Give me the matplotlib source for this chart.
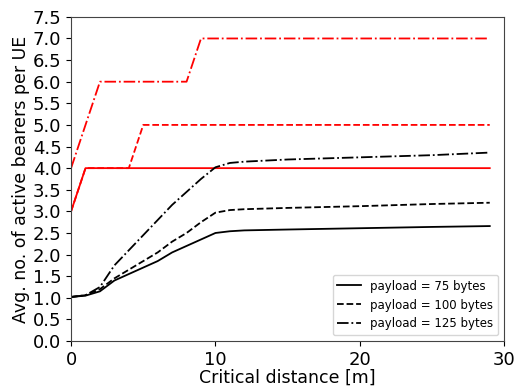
import matplotlib
matplotlib.use('Agg')
import matplotlib.pyplot as plt

# Critical distance [m]
dist = [0, 1, 2, 3, 4, 5, 6, 7, 8, 9, 10, 11, 12, 15, 20, 25, 29]

# simulated average bearers (black)
sim_75 = [1.02, 1.05, 1.15, 1.4, 1.55, 1.7, 1.85, 2.05, 2.2, 2.35, 2.5, 2.54, 2.56, 2.58, 2.61, 2.64, 2.66]
sim_100 = [1.02, 1.06, 1.2, 1.45, 1.65, 1.85, 2.05, 2.3, 2.5, 2.75, 2.97, 3.03, 3.05, 3.08, 3.12, 3.17, 3.2]
sim_125 = [1.02, 1.06, 1.25, 1.75, 2.1, 2.45, 2.8, 3.15, 3.45, 3.75, 4.02, 4.12, 4.15, 4.2, 4.25, 4.3, 4.36]

# upper bounds (red)
bound_75 = [3, 4, 4, 4, 4, 4, 4, 4, 4, 4, 4, 4, 4, 4, 4, 4, 4]
bound_100 = [3, 4, 4, 4, 4, 5, 5, 5, 5, 5, 5, 5, 5, 5, 5, 5, 5]
bound_125 = [4, 5, 6, 6, 6, 6, 6, 6, 6, 7, 7, 7, 7, 7, 7, 7, 7]

labels = ['payload = 75 bytes', 'payload = 100 bytes', 'payload = 125 bytes']
styles = ['-', '--', '-.']

fig = plt.figure(figsize=(5.15, 3.92), dpi=100)
ax = fig.add_axes([0.138, 0.130, 0.841, 0.827])

for y, ls in zip([bound_75, bound_100, bound_125], styles):
    ax.plot(dist, y, color='red', linestyle=ls, linewidth=1.3)
for y, ls, lab in zip([sim_75, sim_100, sim_125], styles, labels):
    ax.plot(dist, y, color='black', linestyle=ls, linewidth=1.3, label=lab)

ax.set_xlim(0, 30)
ax.set_ylim(0, 7.5)
ax.set_xticks([0, 10, 20, 30])
ax.set_yticks([i * 0.5 for i in range(16)])
ax.tick_params(labelsize=13)
ax.set_xlabel('Critical distance [m]', fontsize=12.5, labelpad=0)
ax.set_ylabel('Avg. no. of active bearers per UE', fontsize=12.5, labelpad=2)
for s in ax.spines.values():
    s.set_color('#444444')
ax.legend(loc='lower right', fontsize=8.5)

fig.savefig('out.png', dpi=100)
